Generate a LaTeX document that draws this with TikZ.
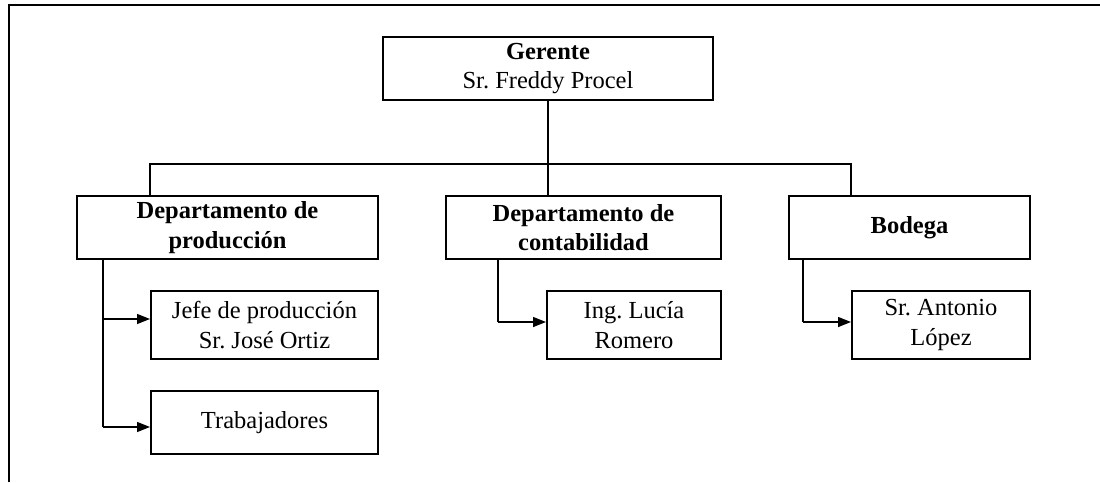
\documentclass[tikz,border=0pt]{standalone}
\usepackage{fontspec}
\setmainfont{Liberation Serif}
\usetikzlibrary{arrows.meta,positioning}
\tikzset{>={Triangle[length=13pt,width=10pt]}}
\tikzset{
  box/.style={draw, line width=2pt, inner sep=0pt, align=center,
    font=\fontsize{24.5}{29.5}\selectfont\frenchspacing},
  line/.style={line width=1.4pt},
  arr/.style={line width=1.4pt, ->},
}

\begin{document}
\begin{tikzpicture}[x=1pt, y=-1pt]
      \useasboundingbox (0,0) rectangle (1100,482);
      \def\hone{63}   % height of the upper boxes
      \def\hsub{68}   % height of the lower boxes
      % frame
      \draw[line width=2pt] (9,482) -- (9,5) -- (1100,5);
      % boxes
      \node[box, minimum width=330pt, minimum height=\hone pt] (ger) at (548,68.5)
        {\textbf{Gerente}\\Sr. Freddy Procel};
      \node[box, minimum width=301pt, minimum height=\hone pt] (prod) at (227.5,227.5)
        {\textbf{Departamento de}\\\textbf{producción}};
      \node[box, minimum width=275pt, minimum height=\hone pt] (cont) at (583.5,227.5)
        {\textbf{Departamento de}\\\textbf{contabilidad}};
      \node[box, minimum width=241pt, minimum height=\hone pt] (bod) at (909.5,227.5)
        {\textbf{Bodega}};
      \node[box, minimum width=227pt, minimum height=\hsub pt] (jefe) at (264.5,325)
        {Jefe de producción\\Sr. José Ortiz};
      \node[box, minimum width=227pt, minimum height=\hone pt] (trab) at (264.5,422.5)
        {Trabajadores};
      \node[box, minimum width=174pt, minimum height=\hsub pt] (lucia) at (634,325)
        {Ing. Lucía\\Romero};
      \node[box, minimum width=178pt, minimum height=\hsub pt] (anto) at (941,325)
        {Sr. Antonio\\López};
      % bus under the manager
      \coordinate (busL) at (150,164);
      \coordinate (busR) at (851,164);
      \draw[line] (ger.south) -- (ger.south |- cont.north);
      \draw[line] (busL |- prod.north) -- (busL) -- (busR) -- (busR |- bod.north);
      % side branches
      \coordinate (pj) at (103,319);
      \coordinate (pt) at (103,427);
      \coordinate (cl) at (498,322);
      \coordinate (ba) at (803,322);
      \draw[line] (pj |- prod.south) -- (pt);
      \draw[arr] (pj) -- (pj -| jefe.west);
      \draw[arr] (pt) -- (pt -| trab.west);
      \draw[line] (cl |- cont.south) -- (cl);
      \draw[arr] (cl) -- (cl -| lucia.west);
      \draw[line] (ba |- bod.south) -- (ba);
      \draw[arr] (ba) -- (ba -| anto.west);
\end{tikzpicture}
\end{document}
